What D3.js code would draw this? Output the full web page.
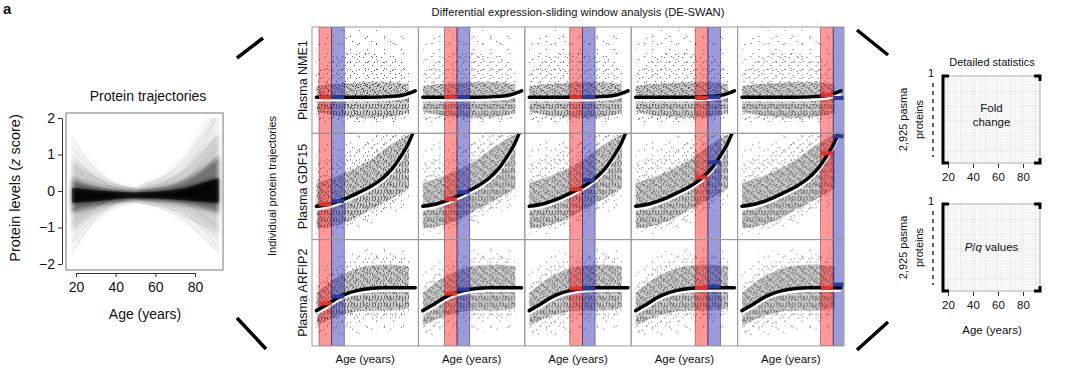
<html>
<head>
<script src="https://d3js.org/d3.v7.min.js"></script>
<style>
  body { margin: 0; background: #fff; }
  text { font-family: "Liberation Sans", Arial, sans-serif; fill: #111; }
</style>
</head>
<body>
<svg id="fig" width="1080" height="377"></svg>
<script>
// ---------------- data ----------------
// left panel: envelopes of ~2,925 protein trajectories (z score) by age
const trajAges   = [18, 25, 35, 45, 50, 55, 65, 75, 85, 92];
const trajMaxHi  = [1.45, 0.95, 0.4, 0.15, 0.1, 0.25, 0.5, 1.0, 1.9, 2.3];
const trajMaxLo  = [-1.7, -1.15, -0.62, -0.38, -0.3, -0.38, -0.55, -0.85, -1.35, -1.7];
const trajQ95Hi  = [0.9, 0.6, 0.25, 0.08, 0.05, 0.12, 0.3, 0.6, 1.2, 1.6];
const trajQ95Lo  = [-1.1, -0.8, -0.5, -0.32, -0.28, -0.32, -0.42, -0.6, -0.95, -1.2];
const trajQ75Hi  = [0.35, 0.22, 0.08, 0.0, -0.02, 0.02, 0.12, 0.3, 0.65, 0.95];
const trajQ75Lo  = [-0.6, -0.5, -0.35, -0.26, -0.24, -0.26, -0.3, -0.38, -0.5, -0.6];
const trajCoreHi = [0.08, 0.05, 0.0, -0.03, -0.04, -0.03, 0.0, 0.08, 0.25, 0.35];
const trajCoreLo = [-0.32, -0.3, -0.25, -0.2, -0.19, -0.2, -0.22, -0.25, -0.3, -0.33];
const trajLines = [
  [1.45, 0.9, 0.35, 0.1, 0.05, 0.05, 0.1, 0.3, 0.9, 1.3],
  [0.6, 0.4, 0.2, 0.05, 0.05, 0.15, 0.4, 0.9, 1.6, 2.3],
  [-1.7, -1.1, -0.5, -0.2, -0.15, -0.2, -0.35, -0.6, -1.1, -1.6],
  [-0.9, -0.6, -0.3, -0.2, -0.2, -0.3, -0.5, -0.8, -1.3, -1.7],
  [1.0, 0.6, 0.2, 0.0, -0.05, 0.0, 0.2, 0.6, 1.3, 1.9],
  [-1.3, -0.8, -0.4, -0.25, -0.25, -0.2, -0.1, 0.1, 0.5, 0.8],
  [0.4, 0.3, 0.15, 0.05, 0.0, 0.05, 0.25, 0.55, 1.1, 1.5],
  [-0.5, -0.4, -0.35, -0.3, -0.3, -0.35, -0.45, -0.65, -0.95, -1.25],
  [1.2, 0.75, 0.3, 0.1, 0.1, 0.2, 0.4, 0.8, 1.5, 2.1],
  [-1.4, -0.95, -0.45, -0.25, -0.2, -0.25, -0.4, -0.7, -1.0, -1.4],
  [0.2, 0.15, 0.05, 0.0, 0.0, 0.1, 0.3, 0.7, 1.4, 2.2],
  [-0.8, -0.55, -0.3, -0.2, -0.15, -0.1, 0.0, 0.2, 0.6, 1.0],
  [0.7, 0.5, 0.25, 0.1, 0.05, 0.0, -0.1, -0.3, -0.7, -1.0],
  [-1.1, -0.7, -0.3, -0.1, -0.05, 0.0, 0.1, 0.3, 0.8, 1.2]
];
const trajYTicks = [-2, -1, 0, 1, 2];
const ageTicks = [20, 40, 60, 80];

// middle panel: three example proteins
const proteins = ['Plasma NME1', 'Plasma GDF15', 'Plasma ARFIP2'];
const yDomains = [[-3.5, 6.5], [-2.5, 7.5], [-4, 6]];
const trendAges = [
  [18, 30, 45, 60, 75, 85, 92, 96],
  [18, 30, 40, 50, 60, 70, 78, 85, 90, 94, 97],
  [18, 25, 30, 35, 40, 50, 60, 70, 80, 96]
];
const trendVals = [
  [-0.1, -0.1, -0.1, -0.1, -0.05, 0.05, 0.3, 0.5],
  [0.63, 0.9, 1.3, 1.85, 2.45, 3.25, 4.2, 5.4, 6.4, 7.5, 8.4],
  [-0.68, -0.21, 0.17, 0.54, 0.83, 1.2, 1.39, 1.48, 1.48, 1.48]
];
const cloudAges = [18, 30, 45, 60, 75, 91];
const denseHi  = [[0.95, 1.14, 1.23, 1.33, 1.33, 1.14], [2.8, 3.27, 4.02, 4.96, 6.28, 7.4], [1.01, 2.14, 3.08, 3.55, 3.65, 3.46]];
const denseLo  = [[-1.5, -1.78, -1.97, -2.06, -1.97, -1.59], [-1.44, -1.25, -0.68, 0.26, 1.2, 2.33], [-2.09, -1.43, -0.87, -0.68, -0.68, -0.49]];
const midHi    = [[2.6, 3.6, 4.0, 4.0, 3.6, 2.8], [4.8, 5.2, 6.0, 6.8, 7.4, 7.4], [2.0, 3.3, 4.0, 4.3, 4.4, 4.2]];
const midLo    = [[-2.1, -2.3, -2.4, -2.4, -2.3, -2.0], [-1.8, -1.7, -1.2, -0.5, 0.4, 1.5], [-2.8, -2.4, -1.9, -1.6, -1.5, -1.3]];
const sparseHi = [[5.3, 6.2, 6.2, 6.2, 6.2, 5.6], [5.9, 6.84, 7.2, 7.4, 7.4, 7.4], [3.08, 4.5, 4.97, 5.15, 5.15, 4.97]];
const sparseLo = [[-2.44, -2.63, -2.72, -2.72, -2.63, -2.25], [-2.0, -2.0, -1.6, -1.06, -0.21, 0.73], [-3.31, -3.31, -3.03, -2.75, -2.56, -2.37]];
const windowStarts = [20, 35, 50, 65, 80];
const windowWidth = 10;
const redMeans  = [[-0.1, -0.1, -0.1, -0.18, 0.1], [0.82, 1.29, 2.23, 3.36, 5.62], [-0.02, 0.92, 1.39, 1.48, 1.48]];
const blueMeans = [[-0.1, -0.1, -0.1, -0.1, -0.18], [1.1, 1.95, 3.08, 4.77, 7.22], [0.64, 1.3, 1.39, 1.58, 1.77]];

// right panel
const statPanels = ['Fold change', 'P/q values'];

// ---------------- drawing ----------------
const svg = d3.select('svg#fig');
const defs = svg.append('defs');

// speckle textures: overlapping tiles of co-prime size so repeats don't line up
function speckle(id, w, h, dots, color, bg) {
  const p = defs.append('pattern').attr('id', id)
    .attr('patternUnits', 'userSpaceOnUse').attr('width', w).attr('height', h);
  if (bg) p.append('rect').attr('width', w).attr('height', h).attr('fill', bg);
  dots.forEach(d => p.append('rect').attr('x', d[0]).attr('y', d[1])
    .attr('width', d[2] || 1).attr('height', d[3] || 1).attr('fill', color));
}
speckle('dA', 7, 6, [[1, 1], [4, 3], [6, 5], [2, 4]], '#444', '#c9c9c9');
speckle('dB', 11, 9, [[2, 6], [8, 2], [5, 8], [10, 5], [0, 3], [7, 0]], '#3a3a3a');
speckle('dC', 13, 10, [[3, 3], [9, 7], [12, 1], [6, 0], [1, 8]], '#555');
speckle('sA', 17, 13, [[4, 9], [13, 3]], '#555');
speckle('sB', 19, 15, [[7, 2], [15, 11], [2, 14]], '#666');
speckle('mA', 9, 8, [[2, 2], [6, 6], [8, 3]], '#555');
speckle('stA', 3, 7, [[0, 0, 1, 4], [2, 4]], '#707070', '#d0d0d0');

svg.append('text').attr('x', 3).attr('y', 14).attr('font-size', 15).attr('font-weight', 'bold').text('a');

// ---- left: protein trajectories ----
const lx = d3.scaleLinear().domain([20, 80]).range([76, 195]);
const ly = d3.scaleLinear().domain([-2, 2]).range([264, 118]);
const left = svg.append('g');
defs.append('clipPath').attr('id', 'trajClip').append('rect')
  .attr('x', 66).attr('y', 118).attr('width', 157).attr('height', 152);
defs.append('filter').attr('id', 'soft').attr('x', '-10%').attr('y', '-20%').attr('width', '120%').attr('height', '140%')
  .append('feGaussianBlur').attr('stdDeviation', 2.2);

const trajG = left.append('g').attr('clip-path', 'url(#trajClip)');
const bandsG = trajG.append('g').attr('filter', 'url(#soft)');
const bandArea = (hi, lo) => d3.area().curve(d3.curveMonotoneX)
  .x((d, i) => lx(trajAges[i])).y0((d, i) => ly(lo[i])).y1((d, i) => ly(hi[i]))(trajAges);
[[trajMaxHi, trajMaxLo, 0.05], [trajQ95Hi, trajQ95Lo, 0.14], [trajQ75Hi, trajQ75Lo, 0.45], [trajCoreHi, trajCoreLo, 0.92]]
  .forEach(b => bandsG.append('path').attr('d', bandArea(b[0], b[1])).attr('fill', '#000').attr('opacity', b[2]));
const trajLine = d3.line().curve(d3.curveMonotoneX).x((d, i) => lx(trajAges[i])).y(d => ly(d));
trajG.selectAll('path.traj').data(trajLines).join('path').attr('class', 'traj')
  .attr('d', trajLine).attr('fill', 'none').attr('stroke', '#000').attr('stroke-width', 0.5).attr('opacity', 0.2);
// sharp core on top
trajG.append('path').attr('d', bandArea(trajCoreHi, trajCoreLo)).attr('fill', '#000').attr('opacity', 0.55);

left.append('rect').attr('x', 66).attr('y', 113).attr('width', 157).attr('height', 157)
  .attr('fill', 'none').attr('stroke', '#777').attr('stroke-width', 1);

const yAx = left.append('g').attr('transform', 'translate(62,0)')
  .call(d3.axisLeft(ly).tickValues(trajYTicks).tickSize(4).tickSizeOuter(0).tickFormat(d => d < 0 ? '\u2212' + Math.abs(d) : d));
const xAx = left.append('g').attr('transform', 'translate(0,273)')
  .call(d3.axisBottom(lx).tickValues(ageTicks).tickSize(4).tickSizeOuter(0));
[yAx, xAx].forEach(a => {
  a.selectAll('text').attr('font-size', 14).attr('font-family', '"Liberation Sans", Arial, sans-serif').attr('fill', '#111');
  a.selectAll('line, path').attr('stroke', '#333');
});
yAx.selectAll('text').attr('x', -7);
xAx.selectAll('text').attr('y', 9);

left.append('text').attr('x', 148).attr('y', 101).attr('text-anchor', 'middle').attr('font-size', 14).text('Protein trajectories');
left.append('text').attr('x', 145).attr('y', 319).attr('text-anchor', 'middle').attr('font-size', 14).text('Age (years)');
const yl = left.append('text').attr('transform', 'translate(20,188) rotate(-90)').attr('text-anchor', 'middle').attr('font-size', 14.5);
yl.append('tspan').text('Protein levels (');
yl.append('tspan').attr('font-style', 'italic').text('z');
yl.append('tspan').text(' score)');

// ---- connectors ----
[[237, 58, 263, 38], [237, 318, 266, 349], [857, 30, 888, 55], [857, 350, 888, 322]].forEach(l =>
  svg.append('line').attr('x1', l[0]).attr('y1', l[1]).attr('x2', l[2]).attr('y2', l[3])
    .attr('stroke', '#000').attr('stroke-width', 3.5));

// ---- middle: DE-SWAN grid ----
const colX0 = 312, rowY0 = 27, cellW = 106.4, cellH = 106.3;
const xs = d3.scaleLinear().domain([14.5, 98.5]).range([0, cellW]);
defs.append('clipPath').attr('id', 'cellClip').append('rect').attr('width', cellW).attr('height', cellH);

svg.append('text').attr('x', 578).attr('y', 16).attr('text-anchor', 'middle').attr('font-size', 11.2)
  .text('Differential expression-sliding window analysis (DE-SWAN)');
svg.append('text').attr('transform', 'translate(276,186) rotate(-90)').attr('text-anchor', 'middle')
  .attr('font-size', 11).text('Individual protein trajectories');

proteins.forEach((name, r) => {
  const ys = d3.scaleLinear().domain(yDomains[r]).range([cellH, 0]);
  const tLine = d3.line().curve(d3.curveMonotoneX).x((d, i) => xs(trendAges[r][i])).y(d => ys(d));
  // clip regions above / below the fitted curve, extended to the cell edges
  const ext = v => [v[0]].concat(v, [v[v.length - 1]]);
  const extAges = [0].concat(trendAges[r], [120]);
  const edgeAbove = d3.area().curve(d3.curveMonotoneX).x((d, i) => xs(extAges[i])).y0(-10).y1(d => ys(d) - 1);
  const edgeBelow = d3.area().curve(d3.curveMonotoneX).x((d, i) => xs(extAges[i])).y0(cellH + 10).y1(d => ys(d) + 4);
  defs.append('clipPath').attr('id', 'above' + r).append('path').attr('d', edgeAbove(ext(trendVals[r])));
  defs.append('clipPath').attr('id', 'below' + r).append('path').attr('d', edgeBelow(ext(trendVals[r])));

  const cloud = (hi, lo) => d3.area().curve(d3.curveMonotoneX)
    .x((d, i) => xs(cloudAges[i])).y0((d, i) => ys(lo[i])).y1((d, i) => ys(hi[i]))(cloudAges);

  svg.append('text').attr('transform', `translate(306.5,${rowY0 + r * cellH + cellH / 2}) rotate(-90)`)
    .attr('text-anchor', 'middle').attr('font-size', 12.5).text(name);

  windowStarts.forEach((ws, c) => {
    const g = svg.append('g').attr('transform', `translate(${colX0 + c * cellW},${rowY0 + r * cellH})`);
    const inner = g.append('g').attr('clip-path', 'url(#cellClip)');
    const sp = cloud(sparseHi[r], sparseLo[r]);
    inner.append('path').attr('d', sp).attr('fill', 'url(#sA)');
    inner.append('path').attr('d', sp).attr('fill', 'url(#sB)');
    inner.append('path').attr('d', cloud(midHi[r], midLo[r])).attr('fill', 'url(#mA)');
    const dn = cloud(denseHi[r], denseLo[r]);
    const up = inner.append('g').attr('clip-path', `url(#above${r})`);
    ['dA', 'dB', 'dC'].forEach(p => up.append('path').attr('d', dn).attr('fill', `url(#${p})`));
    const lo = inner.append('g').attr('clip-path', `url(#below${r})`);
    ['stA', 'dB', 'dC'].forEach(p => lo.append('path').attr('d', dn).attr('fill', `url(#${p})`));
    // comparison windows
    inner.append('rect').attr('x', xs(ws)).attr('width', xs(ws + windowWidth) - xs(ws)).attr('height', cellH)
      .attr('fill', 'rgb(255,0,0)').attr('fill-opacity', 0.4).attr('stroke', 'rgba(90,0,0,0.5)').attr('stroke-width', 0.8);
    inner.append('rect').attr('x', xs(ws + windowWidth)).attr('width', xs(ws + 2 * windowWidth) - xs(ws + windowWidth)).attr('height', cellH)
      .attr('fill', 'rgb(20,20,170)').attr('fill-opacity', 0.42).attr('stroke', 'rgba(0,0,80,0.5)').attr('stroke-width', 0.8);
    // fitted trajectory
    inner.append('path').attr('d', tLine(trendVals[r])).attr('transform', 'translate(0,3)')
      .attr('fill', 'none').attr('stroke', '#fff').attr('stroke-width', 2.5).attr('opacity', 0.9);
    inner.append('path').attr('d', tLine(trendVals[r]))
      .attr('fill', 'none').attr('stroke', '#000').attr('stroke-width', 3.5).attr('stroke-linecap', 'round');
    // window means
    inner.append('line').attr('x1', xs(ws)).attr('x2', xs(ws + windowWidth))
      .attr('y1', ys(redMeans[r][c])).attr('y2', ys(redMeans[r][c])).attr('stroke', '#e3302c').attr('stroke-width', 4);
    inner.append('line').attr('x1', xs(ws + windowWidth)).attr('x2', xs(ws + 2 * windowWidth))
      .attr('y1', ys(blueMeans[r][c])).attr('y2', ys(blueMeans[r][c])).attr('stroke', '#2a3b9c').attr('stroke-width', 4);
    g.append('rect').attr('width', cellW).attr('height', cellH).attr('fill', 'none')
      .attr('stroke', '#9a9a9a').attr('stroke-width', 1);
  });
});
windowStarts.forEach((ws, c) => {
  svg.append('text').attr('x', colX0 + c * cellW + cellW / 2).attr('y', 363).attr('text-anchor', 'middle')
    .attr('font-size', 11.5).text('Age (years)');
});

// ---- right: detailed statistics ----
const sx = d3.scaleLinear().domain([20, 80]).range([948, 1023]);
const boxL = 943, boxR = 1040;
const boxTops = [76, 204], boxH = 87;
svg.append('text').attr('x', 992).attr('y', 66).attr('text-anchor', 'middle').attr('font-size', 11).text('Detailed statistics');

statPanels.forEach((label, k) => {
  const top = boxTops[k], bot = top + boxH;
  const g = svg.append('g');
  // fine grid
  d3.range(16, 94, 2).forEach(a => g.append('line').attr('x1', sx(a)).attr('x2', sx(a)).attr('y1', top).attr('y2', bot)
    .attr('stroke', a % 10 === 0 ? '#d8d8d8' : '#e9e9e9').attr('stroke-width', 0.6));
  d3.range(top + 3, bot, 3).forEach((y, i) => g.append('line').attr('x1', boxL).attr('x2', boxR).attr('y1', y).attr('y2', y)
    .attr('stroke', i % 5 === 4 ? '#d8d8d8' : '#e9e9e9').attr('stroke-width', 0.6));
  g.append('rect').attr('x', boxL).attr('y', top).attr('width', boxR - boxL).attr('height', boxH)
    .attr('fill', 'none').attr('stroke', '#999').attr('stroke-width', 0.8);
  // brackets
  g.append('path').attr('d', `M${boxL + 6},${top} H${boxL} V${bot} H${boxL + 6}`)
    .attr('fill', 'none').attr('stroke', '#000').attr('stroke-width', 3);
  g.append('path').attr('d', `M${boxR - 6},${top} H${boxR} V${top + 5}`)
    .attr('fill', 'none').attr('stroke', '#000').attr('stroke-width', 3);
  g.append('path').attr('d', `M${boxR - 6},${bot} H${boxR} V${bot - 5}`)
    .attr('fill', 'none').attr('stroke', '#000').attr('stroke-width', 3);
  // protein index axis
  g.append('line').attr('x1', 933).attr('x2', 933).attr('y1', top + 7).attr('y2', bot - 6)
    .attr('stroke', '#222').attr('stroke-width', 1.4).attr('stroke-dasharray', '4,4');
  g.append('text').attr('x', 931).attr('y', top + 1).attr('text-anchor', 'middle').attr('font-size', 11).text('1');
  g.append('text').attr('transform', `translate(907,${top + boxH / 2}) rotate(-90)`).attr('text-anchor', 'middle')
    .attr('font-size', 11).text('2,925 pasma');
  g.append('text').attr('transform', `translate(923,${top + boxH / 2}) rotate(-90)`).attr('text-anchor', 'middle')
    .attr('font-size', 11).text('proteins');
  // age axis
  const ax = g.append('g').attr('transform', `translate(0,${bot + 1})`)
    .call(d3.axisBottom(sx).tickValues(ageTicks).tickSize(4).tickSizeOuter(0));
  ax.select('path.domain').remove();
  ax.selectAll('line').attr('stroke', '#333');
  ax.selectAll('text').attr('font-size', 11.5).attr('font-family', '"Liberation Sans", Arial, sans-serif').attr('fill', '#111').attr('y', 9);

  const cx = (boxL + boxR) / 2;
  if (k === 0) {
    g.append('text').attr('x', cx).attr('y', top + 36).attr('text-anchor', 'middle').attr('font-size', 11.5).text('Fold');
    g.append('text').attr('x', cx).attr('y', top + 50).attr('text-anchor', 'middle').attr('font-size', 11.5).text('change');
  } else {
    const t = g.append('text').attr('x', cx).attr('y', top + 47).attr('text-anchor', 'middle').attr('font-size', 11.5);
    t.append('tspan').attr('font-style', 'italic').text('P');
    t.append('tspan').text('/');
    t.append('tspan').attr('font-style', 'italic').text('q');
    t.append('tspan').text(' values');
  }
});
svg.append('text').attr('x', 992).attr('y', 334).attr('text-anchor', 'middle').attr('font-size', 11.5).text('Age (years)');
</script>
</body>
</html>
